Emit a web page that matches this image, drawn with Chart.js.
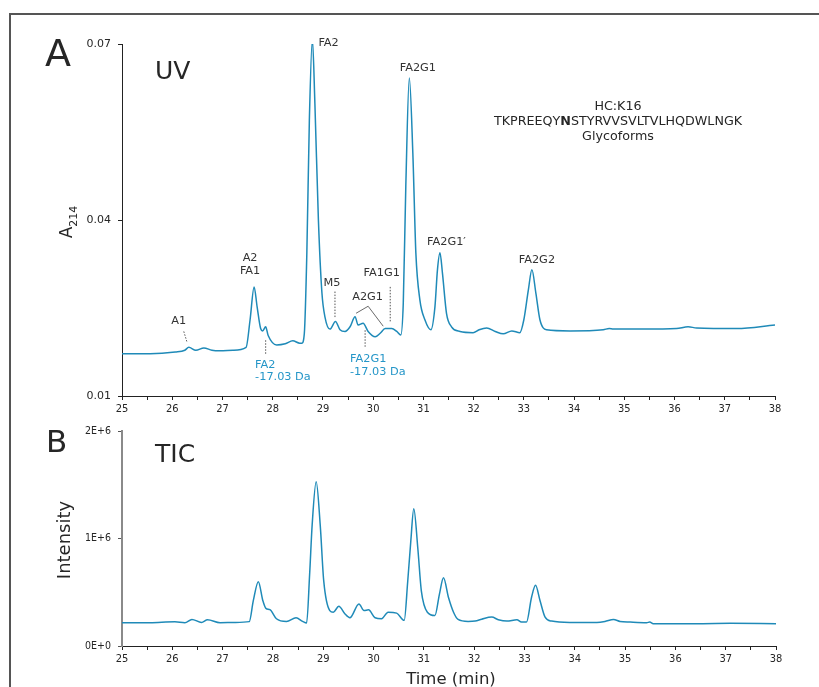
<!DOCTYPE html>
<html><head><meta charset="utf-8">
<script src="https://cdn.jsdelivr.net/npm/chart.js@4.4.0/dist/chart.umd.min.js"></script>
<style>
html,body{margin:0;padding:0;background:#fff;}
#wrap{position:relative;width:819px;height:687px;overflow:hidden;background:#fff;}
#frame{position:absolute;left:9px;top:13px;width:830px;height:700px;border-top:2px solid #555;border-left:2px solid #555;}
canvas{position:absolute;left:0;}
#cA{top:0;width:819px;height:418px;}
#cB{top:418px;width:819px;height:269px;}
</style></head>
<body><div id="wrap"><div id="frame"></div><canvas id="cA" width="819" height="418"></canvas><canvas id="cB" width="819" height="269"></canvas></div>
<script>
// ---------- DATA ----------
const timeTicks = [25,26,27,28,29,30,31,32,33,34,35,36,37,38];
const uvTicks = [0.01, 0.04, 0.07];
const ticTicks = [0, 1e6, 2e6];
const ticTickLabels = ['0E+0','1E+6','2E+6'];

const uvTime = [25.00,25.56,26.06,26.25,26.33,26.47,26.63,26.79,26.95,27.21,27.47,27.55,27.63,27.69,27.76,27.80,27.86,27.91,28.08,28.25,28.40,28.54,28.58,28.63,28.68,28.73,28.79,28.84,28.91,28.98,29.04,29.14,29.25,29.34,29.44,29.54,29.64,29.70,29.80,29.90,30.04,30.14,30.24,30.37,30.47,30.55,30.60,30.65,30.72,30.79,30.85,30.93,31.03,31.15,31.23,31.28,31.33,31.38,31.46,31.56,31.73,31.99,32.11,32.26,32.43,32.59,32.76,32.92,33.00,33.09,33.16,33.24,33.32,33.45,33.92,34.58,34.70,34.78,35.38,36.04,36.27,36.44,37.24,38.00];
const uvAbs  = [0.0172,0.0172,0.0175,0.0178,0.0183,0.0178,0.0182,0.0178,0.0177,0.0178,0.0183,0.0230,0.0286,0.0252,0.0215,0.0211,0.0218,0.0203,0.0187,0.0189,0.0194,0.0190,0.0190,0.0207,0.0344,0.0570,0.0708,0.0599,0.0400,0.0276,0.0235,0.0214,0.0227,0.0213,0.0210,0.0218,0.0235,0.0221,0.0224,0.0210,0.0201,0.0207,0.0215,0.0215,0.0210,0.0204,0.0259,0.0457,0.0642,0.0514,0.0344,0.0264,0.0230,0.0213,0.0252,0.0315,0.0344,0.0309,0.0241,0.0218,0.0210,0.0208,0.0213,0.0216,0.0210,0.0206,0.0211,0.0208,0.0230,0.0281,0.0315,0.0275,0.0230,0.0213,0.0211,0.0213,0.0215,0.0214,0.0214,0.0215,0.0218,0.0216,0.0215,0.0221];

const ticTime = [25.00,25.56,26.05,26.25,26.39,26.58,26.70,26.95,27.25,27.53,27.61,27.71,27.80,27.86,27.94,28.07,28.27,28.46,28.59,28.67,28.73,28.78,28.86,28.94,29.01,29.13,29.20,29.31,29.43,29.53,29.71,29.81,29.90,30.03,30.16,30.29,30.46,30.61,30.68,30.74,30.80,30.88,30.95,31.07,31.22,31.31,31.39,31.49,31.59,31.68,31.88,32.02,32.15,32.35,32.48,32.65,32.85,32.94,33.04,33.14,33.22,33.31,33.41,33.54,33.90,34.44,34.60,34.77,34.90,35.10,35.43,35.49,35.56,36.49,37.09,38.00];
const ticIntensity = [216000,217000,225000,217000,248000,220000,245000,217000,220000,227000,422000,599000,422000,351000,339000,254000,229000,263000,229000,214000,670000,1128000,1529000,1128000,606000,330000,315000,370000,300000,263000,392000,330000,337000,263000,254000,315000,306000,239000,606000,972000,1278000,911000,514000,315000,284000,483000,636000,452000,315000,248000,229000,232000,250000,269000,245000,232000,245000,223000,223000,452000,566000,422000,269000,232000,220000,220000,229000,248000,229000,223000,217000,223000,208000,208000,211000,208000];

// ---------- ANNOTATIONS (data coordinates) ----------
const uvLabels = [
  {t:'FA2',   x:28.91, y:0.0701, align:'left'},
  {t:'FA2G1', x:30.89, y:0.0659},
  {t:'A2',    x:27.55, y:0.0335},
  {t:'FA1',   x:27.55, y:0.0313},
  {t:'A1',    x:26.13, y:0.0227},
  {t:'M5',    x:29.18, y:0.0292},
  {t:'FA1G1', x:30.17, y:0.0309},
  {t:'A2G1',  x:29.89, y:0.0269},
  {t:'FA2G1\u2032', x:31.46, y:0.0363},
  {t:'FA2G2', x:33.26, y:0.0331},
  {t:'FA2',       x:27.65, y:0.0153, align:'left', teal:true},
  {t:'-17.03 Da', x:27.65, y:0.0133, align:'left', teal:true},
  {t:'FA2G1',     x:29.54, y:0.0163, align:'left', teal:true},
  {t:'-17.03 Da', x:29.54, y:0.0140, align:'left', teal:true}
];
const uvLeaders = [
  [[26.23,0.0210],[26.29,0.0193]],
  [[27.86,0.0195],[27.86,0.0170]],
  [[29.24,0.0278],[29.24,0.0232]],
  [[30.34,0.0286],[30.34,0.0227]],
  [[29.84,0.0212],[29.84,0.0184]]
];
const a2g1Lines = [[29.66,0.0241],[29.90,0.0253],[30.20,0.0219]];

// ---------- HELPERS ----------
const LINE = '#1f8ab8';
const TEAL = '#2596c8';
const DARK = '#262626';
const COND = "'DejaVu Sans Condensed','Liberation Sans Narrow','DejaVu Sans',sans-serif";
const SANS = "'DejaVu Sans',Verdana,sans-serif";
const toXY = (ts, vs) => ts.map((t,i) => ({x:t, y:vs[i]}));

function xScale(){
  return {
    type:'linear', min:25, max:38,
    afterBuildTicks: s => { const a=[]; timeTicks.forEach((t,i)=>{a.push({value:t}); if(i<timeTicks.length-1) a.push({value:t+0.5});}); s.ticks=a; },
    ticks:{autoSkip:false, maxRotation:0, padding:3, color:DARK, font:{family:COND,size:11},
      callback:v => (Math.abs(v-Math.round(v))<1e-6 ? String(Math.round(v)) : '')},
    grid:{display:true, drawOnChartArea:false, drawTicks:true, tickLength:4, color:'#222', tickWidth:1},
    border:{display:true, color:'#222', width:1}
  };
}
function txt(ctx, s, x, y, font, color, align, base){
  ctx.save(); ctx.font=font; ctx.fillStyle=color; ctx.textAlign=align||'center'; ctx.textBaseline=base||'middle';
  ctx.fillText(s,x,y); ctx.restore();
}

// ---------- CHART A ----------
const plugA = {
  id:'annA',
  afterDraw(chart){
    const c=chart.ctx, xs=chart.scales.x, ys=chart.scales.y;
    txt(c,'A',45,66,'38px '+SANS,DARK,'left','alphabetic');
    txt(c,'UV',155,79,'25px '+SANS,DARK,'left','alphabetic');
    // y title A214
    c.save(); c.translate(72,222); c.rotate(-Math.PI/2);
    c.fillStyle=DARK; c.textBaseline='alphabetic'; c.textAlign='left';
    c.font='17px '+SANS; const wA=c.measureText('A').width;
    c.font='11px '+SANS; const wS=c.measureText('214').width;
    const start=-(wA+wS)/2;
    c.font='17px '+SANS; c.fillText('A',start,0);
    c.font='11px '+SANS; c.fillText('214',start+wA,5);
    c.restore();
    // peptide text
    const F='12.7px '+SANS, FB='bold 12.7px '+SANS;
    txt(c,'HC:K16',618,107,F,DARK);
    c.save(); c.font=F; const p1='TKPREEQY', p3='STYRVVSVLTVLHQDWLNGK';
    const w1=c.measureText(p1).width, w3=c.measureText(p3).width;
    c.font=FB; const w2=c.measureText('N').width;
    let x0=618-(w1+w2+w3)/2; c.fillStyle=DARK; c.textBaseline='middle'; c.textAlign='left';
    c.font=F; c.fillText(p1,x0,121.5);
    c.font=FB; c.fillText('N',x0+w1,121.5);
    c.font=F; c.fillText(p3,x0+w1+w2,121.5);
    c.restore();
    txt(c,'Glycoforms',618,136.5,F,DARK);
    // peak labels
    uvLabels.forEach(l=>txt(c,l.t,xs.getPixelForValue(l.x),ys.getPixelForValue(l.y),'11.3px '+SANS,l.teal?TEAL:'#333',l.align||'center'));
    // leaders
    c.save(); c.strokeStyle='#555'; c.lineWidth=1; c.setLineDash([1.5,1.5]);
    uvLeaders.forEach(seg=>{c.beginPath(); c.moveTo(xs.getPixelForValue(seg[0][0]),ys.getPixelForValue(seg[0][1])); c.lineTo(xs.getPixelForValue(seg[1][0]),ys.getPixelForValue(seg[1][1])); c.stroke();});
    c.setLineDash([]); c.strokeStyle='#444'; c.lineWidth=0.8;
    c.beginPath(); c.moveTo(xs.getPixelForValue(a2g1Lines[0][0]),ys.getPixelForValue(a2g1Lines[0][1]));
    c.lineTo(xs.getPixelForValue(a2g1Lines[1][0]),ys.getPixelForValue(a2g1Lines[1][1]));
    c.lineTo(xs.getPixelForValue(a2g1Lines[2][0]),ys.getPixelForValue(a2g1Lines[2][1])); c.stroke();
    c.restore();
  }
};
new Chart(document.getElementById('cA'),{
  type:'line',
  data:{datasets:[{data:toXY(uvTime,uvAbs), borderColor:LINE, borderWidth:1.5, pointRadius:0, cubicInterpolationMode:'monotone', fill:false}]},
  options:{responsive:false, animation:false, devicePixelRatio:1,
    layout:{padding:{left:0,right:44,top:44,bottom:0}},
    plugins:{legend:{display:false}, tooltip:{enabled:false}},
    scales:{
      x:Object.assign(xScale(),{afterFit:s=>{s.height=22;}}),
      y:{type:'linear', min:0.01, max:0.07,
        afterBuildTicks:s=>{s.ticks=uvTicks.map(v=>({value:v}));},
        afterFit:s=>{s.width=122;},
        ticks:{padding:7, color:DARK, font:{family:SANS,size:11}, callback:v=>Number(v).toFixed(2)},
        grid:{display:true, drawOnChartArea:false, tickLength:4, color:'#222'},
        border:{display:true, color:'#222', width:1}}
    }},
  plugins:[plugA]
});

// ---------- CHART B ----------
const plugB = {
  id:'annB',
  afterDraw(chart){
    const c=chart.ctx;
    txt(c,'B',46,34,'31px '+SANS,DARK,'left','alphabetic');
    txt(c,'TIC',155,44,'25px '+SANS,DARK,'left','alphabetic');
    c.save(); c.translate(70,122); c.rotate(-Math.PI/2);
    c.font='18px '+SANS; c.fillStyle=DARK; c.textAlign='center'; c.textBaseline='alphabetic';
    c.fillText('Intensity',0,0); c.restore();
    txt(c,'Time (min)',451,266,'16.5px '+SANS,DARK,'center','alphabetic');
  }
};
new Chart(document.getElementById('cB'),{
  type:'line',
  data:{datasets:[{data:toXY(ticTime,ticIntensity), borderColor:LINE, borderWidth:1.5, pointRadius:0, cubicInterpolationMode:'monotone', fill:false}]},
  options:{responsive:false, animation:false, devicePixelRatio:1,
    layout:{padding:{left:0,right:43,top:10,bottom:0}},
    plugins:{legend:{display:false}, tooltip:{enabled:false}},
    scales:{
      x:Object.assign(xScale(),{afterFit:s=>{s.height=41;}}),
      y:{type:'linear', min:0, max:2e6,
        afterBuildTicks:s=>{s.ticks=ticTicks.map(v=>({value:v}));},
        afterFit:s=>{s.width=122;},
        ticks:{padding:7, color:DARK, font:{family:COND,size:10.5}, callback:(v,i)=>ticTickLabels[ticTicks.indexOf(v)] ?? ''},
        grid:{display:true, drawOnChartArea:false, tickLength:4, color:'#555'},
        border:{display:true, color:'#8a8a8a', width:2}}
    }},
  plugins:[plugB]
});
</script></body></html>
